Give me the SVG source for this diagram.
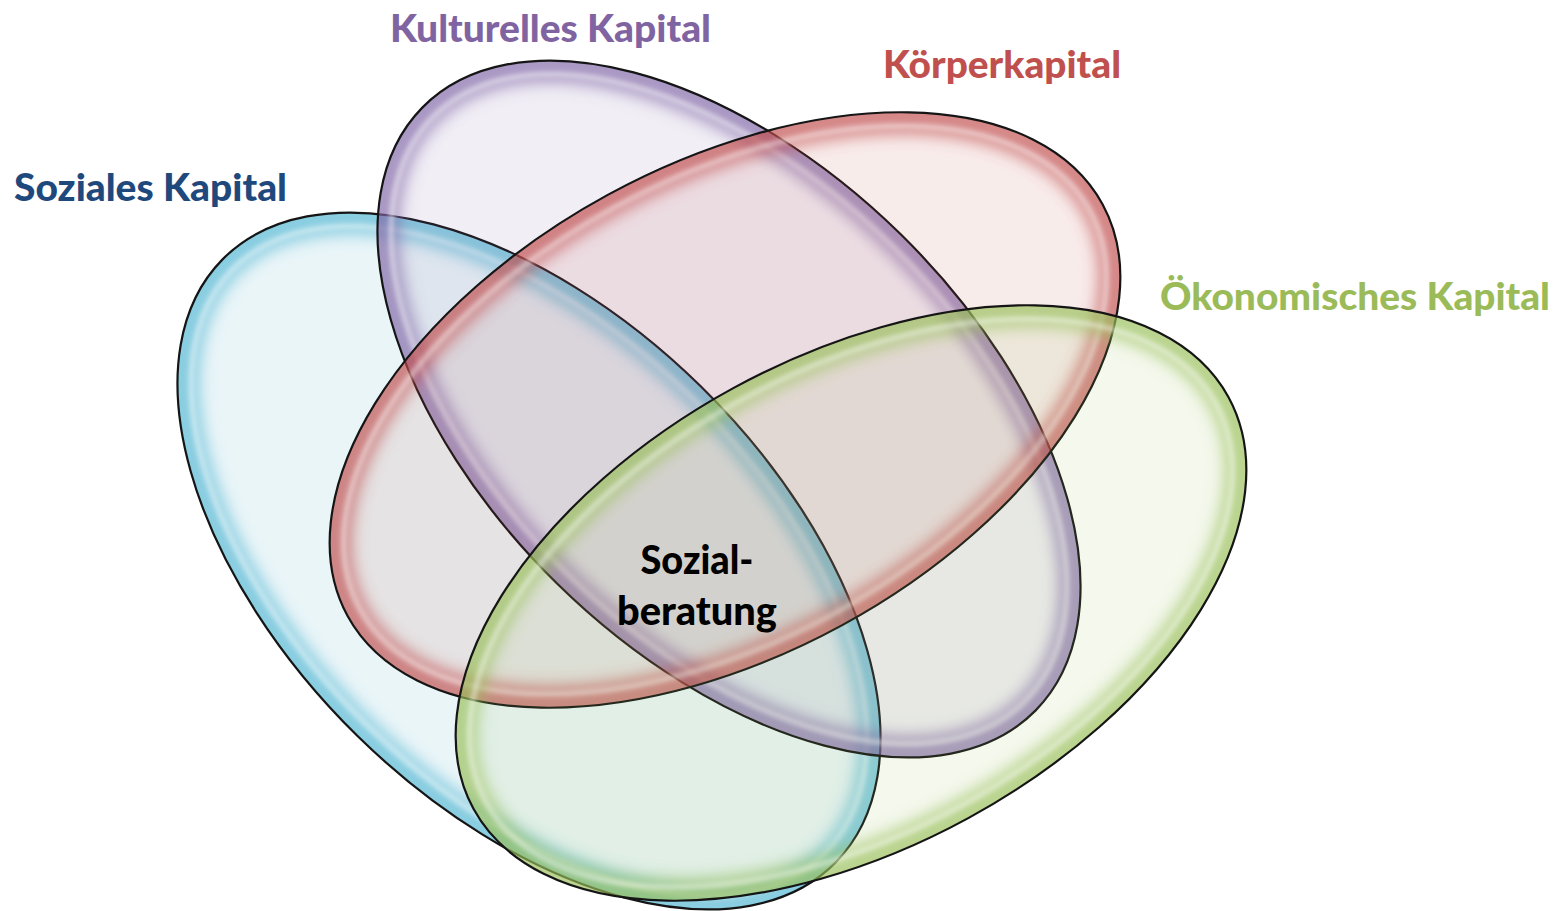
<svg xmlns="http://www.w3.org/2000/svg" width="1560" height="911" viewBox="0 0 1560 911">
<style>
.fill{stroke:none}
.glow{fill:none;stroke-width:44;stroke-opacity:.62;filter:url(#blur);clip-path:url(#clipE)}
.hl{fill:none;stroke:#fff;stroke-width:4;stroke-opacity:.6;filter:url(#soft);clip-path:url(#clipE)}
.outline{fill:none;stroke:#151515;stroke-width:2.2}
.label{font-family:Lato,"Open Sans","Liberation Sans",sans-serif;font-weight:900;font-size:38px}
.center{font-family:Lato,"Open Sans","Liberation Sans",sans-serif;font-weight:900;font-size:39px;fill:#000;text-anchor:middle}
</style>
<defs>
<clipPath id="clipE"><ellipse cx="0" cy="0" rx="430" ry="245"/></clipPath>
<filter id="blur" x="-10%" y="-15%" width="120%" height="130%"><feGaussianBlur stdDeviation="8"/></filter>
<filter id="soft" x="-10%" y="-15%" width="120%" height="130%"><feGaussianBlur stdDeviation="2.4"/></filter>
</defs>
<rect width="1560" height="911" fill="#fff"/>

<g id="soziales">
<g transform="translate(529,561) rotate(44.5)">
<ellipse class="fill" rx="430" ry="245" fill="#5FB0CC" fill-opacity=".13"/>
<ellipse class="glow" rx="430" ry="245" stroke="#4FB5D2"/>
<ellipse class="hl" rx="416" ry="231"/>
<ellipse class="outline" rx="430" ry="245"/>
</g>
<text class="label" x="14" y="201" fill="#1F497D" textLength="273" lengthAdjust="spacingAndGlyphs">Soziales Kapital</text>
</g>

<g id="kulturelles">
<g transform="translate(729,409) rotate(44.5)">
<ellipse class="fill" rx="430" ry="245" fill="#8064A2" fill-opacity=".11"/>
<ellipse class="glow" rx="430" ry="245" stroke="#7E64A6"/>
<ellipse class="hl" rx="416" ry="231"/>
<ellipse class="outline" rx="430" ry="245"/>
</g>
<text class="label" x="390" y="42" fill="#8064A2" textLength="321" lengthAdjust="spacingAndGlyphs">Kulturelles Kapital</text>
</g>

<g id="koerper">
<g transform="translate(725,410) rotate(-28.6)">
<ellipse class="fill" rx="430" ry="245" fill="#C0504D" fill-opacity=".11"/>
<ellipse class="glow" rx="430" ry="245" stroke="#C04A4A"/>
<ellipse class="hl" rx="416" ry="231"/>
<ellipse class="outline" rx="430" ry="245"/>
</g>
<text class="label" x="883" y="78" fill="#C0504D" textLength="238" lengthAdjust="spacingAndGlyphs">Körperkapital</text>
</g>

<g id="oekonomisches">
<g transform="translate(851,603) rotate(-28.6)">
<ellipse class="fill" rx="430" ry="245" fill="#9BBB59" fill-opacity=".11"/>
<ellipse class="glow" rx="430" ry="245" stroke="#98BE55"/>
<ellipse class="hl" rx="416" ry="231"/>
<ellipse class="outline" rx="430" ry="245"/>
</g>
<text class="label" x="1160" y="310" fill="#9BBB59" textLength="390" lengthAdjust="spacingAndGlyphs">Ökonomisches Kapital</text>
</g>

<g id="sozialberatung">
<text class="center" x="697" y="574" textLength="113" lengthAdjust="spacingAndGlyphs">Sozial-</text>
<text class="center" x="697" y="625" textLength="160" lengthAdjust="spacingAndGlyphs">beratung</text>
</g>
<g id="connectors"/>
</svg>
